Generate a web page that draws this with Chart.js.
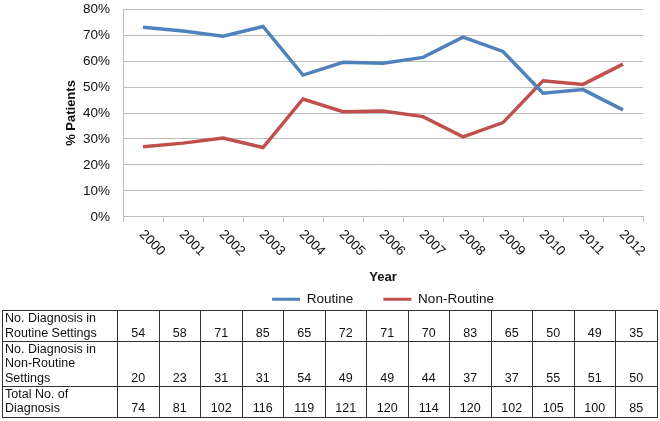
<!DOCTYPE html>
<html>
<head>
<meta charset="utf-8">
<script src="https://cdn.jsdelivr.net/npm/chart.js@4.4.1/dist/chart.umd.min.js"></script>
<style>
  html, body { margin: 0; padding: 0; background: #fff; }
  body { width: 660px; height: 421px; overflow: hidden; position: relative; font-family: "Liberation Sans", Arial, sans-serif; }
  #chartBox { position: absolute; left: 0; top: -12px; width: 660px; height: 328px; }
  #counts { position: absolute; left: 2px; top: 310px; width: 655px; border-collapse: collapse; table-layout: fixed; font-size: 12.5px; color: #111; }
  #counts td { border: 1px solid #333; padding: 0 2px 1px 2px; vertical-align: bottom; text-align: center; line-height: 14.3px; overflow: hidden; }
  #counts td.label { text-align: left; }
</style>
</head>
<body>
<div id="chartBox"><canvas id="chart"></canvas></div>
<table id="counts">
  <colgroup id="cols"></colgroup>
  <tbody id="countsBody"></tbody>
</table>
<script>
// Data
const years = ["2000", "2001", "2002", "2003", "2004", "2005", "2006", "2007", "2008", "2009", "2010", "2011", "2012"];
const routinePct = [73.0, 71.6, 69.6, 73.3, 54.6, 59.5, 59.2, 61.4, 69.2, 63.7, 47.6, 49.0, 41.2];
const nonRoutinePct = [27.0, 28.4, 30.4, 26.7, 45.4, 40.5, 40.8, 38.6, 30.8, 36.3, 52.4, 51.0, 58.8];

const routineCounts = [54, 58, 71, 85, 65, 72, 71, 70, 83, 65, 50, 49, 35];
const nonRoutineCounts = [20, 23, 31, 31, 54, 49, 49, 44, 37, 37, 55, 51, 50];
const totalCounts = [74, 81, 102, 116, 119, 121, 120, 114, 120, 102, 105, 100, 85];

const rowLabels = ["No. Diagnosis in<br>Routine Settings", "No. Diagnosis in<br>Non-Routine<br>Settings", "Total No. of<br>Diagnosis"];
const rowHeights = [31, 45, 30];

const FONT = '"Liberation Sans", Arial, sans-serif';

// Build the count table
function buildTable() {
  const cols = document.getElementById("cols");
  let html = '<col style="width:115px">';
  years.forEach(() => { html += '<col style="width:41.5px">'; });
  cols.innerHTML = html;

  const rows = [routineCounts, nonRoutineCounts, totalCounts];
  let body = "";
  rows.forEach((vals, r) => {
    body += '<tr style="height:' + rowHeights[r] + 'px"><td class="label">' + rowLabels[r] + '</td>';
    vals.forEach(v => { body += '<td>' + v + '</td>'; });
    body += '</tr>';
  });
  document.getElementById("countsBody").innerHTML = body;
}

// Year labels rotated downward, drawn at the x scale's tick positions
const yearLabels = {
  id: "yearLabels",
  afterDraw(chart) {
    const xs = chart.scales.x;
    const ctx = chart.ctx;
    ctx.save();
    ctx.font = "13.5px " + FONT;
    ctx.fillStyle = "#111";
    ctx.textAlign = "left";
    ctx.textBaseline = "middle";
    years.forEach((label, i) => {
      const x = xs.getPixelForTick(i);
      ctx.save();
      ctx.translate(x - 1.5, xs.top + 15.5);
      ctx.rotate(Math.PI / 4);
      ctx.fillText(label, 0, 0);
      ctx.restore();
    });
    ctx.restore();
  }
};

function renderChart() {
  const gridColor = "#bdbdbd";
  new Chart(document.getElementById("chart").getContext("2d"), {
    type: "line",
    data: {
      labels: years,
      datasets: [
        {
          label: "Routine",
          data: routinePct,
          borderColor: "#4f81bd",
          backgroundColor: "#4f81bd",
          borderWidth: 3.5,
          pointRadius: 0,
          tension: 0,
        },
        {
          label: "Non-Routine",
          data: nonRoutinePct,
          borderColor: "#c0504d",
          backgroundColor: "#c0504d",
          borderWidth: 3.5,
          pointRadius: 0,
          tension: 0,
        },
      ],
    },
    options: {
      responsive: true,
      maintainAspectRatio: false,
      animation: false,
      layout: { padding: { top: 0, right: 17, left: 0, bottom: 0 } },
      plugins: {
        tooltip: { enabled: false },
        legend: {
          position: "bottom",
          fullSize: false,
          labels: {
            boxWidth: 28,
            boxHeight: 3,
            padding: 30,
            color: "#111",
            font: { family: FONT, size: 13.5 },
            generateLabels(chart) {
              const items = Chart.defaults.plugins.legend.labels.generateLabels(chart);
              items.forEach(it => { it.lineWidth = 0; });
              return items;
            },
          },
        },
      },
      scales: {
        x: {
          offset: true,
          grid: {
            offset: true,
            drawOnChartArea: false,
            color: gridColor,
            tickLength: 5,
          },
          border: { color: gridColor },
          ticks: { display: false },
          title: {
            display: true,
            text: "Year",
            color: "#111",
            font: { family: FONT, size: 13, weight: "bold" },
            padding: { top: 48, bottom: -23 },
          },
        },
        y: {
          min: 0,
          max: 80,
          afterFit(scale) { scale.width = 123; },
          grid: { color: gridColor, drawTicks: false },
          border: { color: gridColor },
          ticks: {
            stepSize: 10,
            padding: 13,
            color: "#111",
            font: { family: FONT, size: 13.5 },
            callback: v => v + "%",
          },
          title: {
            display: true,
            text: "% Patients",
            color: "#111",
            font: { family: FONT, size: 13, weight: "bold" },
            padding: { top: 64, bottom: 0 },
          },
        },
      },
    },
    plugins: [yearLabels],
  });
}

document.addEventListener("DOMContentLoaded", () => {
  buildTable();
  renderChart();
});
</script>
</body>
</html>
